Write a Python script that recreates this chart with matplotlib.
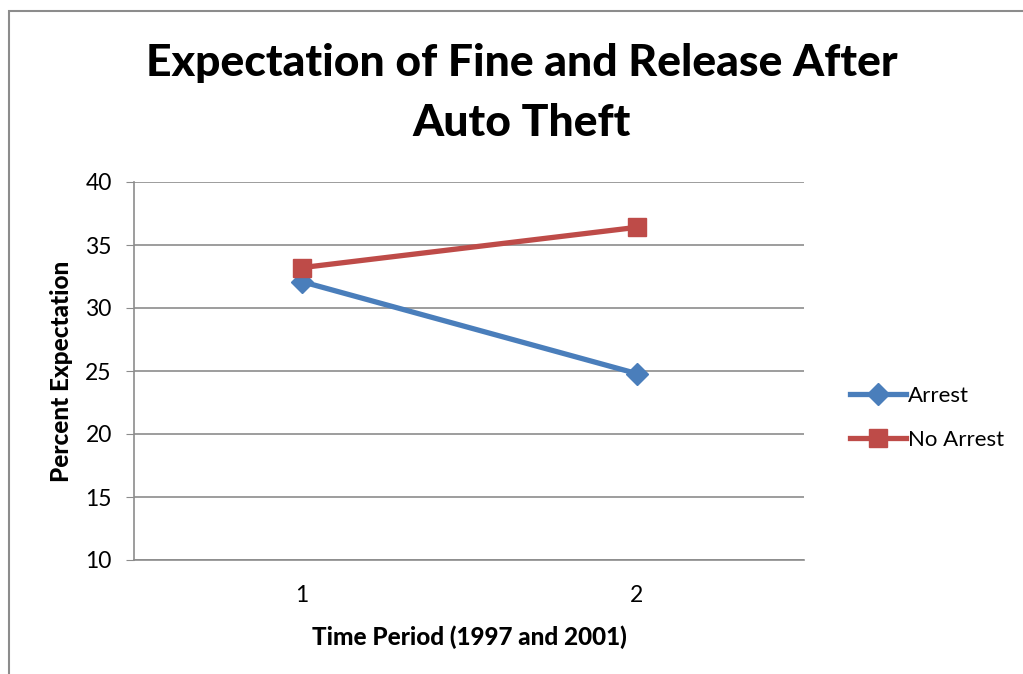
import matplotlib
matplotlib.use("Agg")
import matplotlib.pyplot as plt
from matplotlib.patches import Rectangle
from matplotlib.lines import Line2D

plt.rcParams['font.family'] = ['Lato', 'DejaVu Sans']

periods = [1, 2]
arrest = [32.1, 24.8]
no_arrest = [33.2, 36.4]
series_names = ["Arrest", "No Arrest"]
yticks = [10, 15, 20, 25, 30, 35, 40]

blue = "#4A7EBB"
red = "#BE4B48"
grid = "#8C8C8C"

fig = plt.figure(figsize=(10.23, 6.74), dpi=100)
fig.patches.append(Rectangle((9/1023, -0.1), 1.5, 1 - 11/674 + 0.1,
                             transform=fig.transFigure, fill=False,
                             edgecolor="#8C8C8C", linewidth=1.5))

ax = fig.add_axes([134/1023, 1 - 560/674, 670/1023, 378/674])
ax.plot(periods, arrest, color=blue, lw=3.8, marker='D', ms=11,
        label=series_names[0])
ax.plot(periods, no_arrest, color=red, lw=3.8, marker='s', ms=13,
        label=series_names[1])

ax.set_xlim(0.5, 2.5)
ax.set_ylim(10, 40)
ax.set_yticks(yticks)
ax.set_xticks(periods)
ax.yaxis.grid(True, color=grid, lw=1.2)
ax.set_axisbelow(True)
for s in ['top', 'right']:
    ax.spines[s].set_visible(False)
for s in ['left', 'bottom']:
    ax.spines[s].set_color(grid)
    ax.spines[s].set_linewidth(1.2)
ax.tick_params(axis='y', length=6, color=grid, labelsize=16.5, pad=10)
ax.tick_params(axis='x', length=0, labelsize=16.5, pad=18)

ax.set_ylabel("Percent Expectation", fontsize=17.5, fontweight='black', labelpad=9)
ax.set_xlabel("Time Period (1997 and 2001)", fontsize=17.5, fontweight='black', labelpad=14)

fig.text(522/1023, 1 - 93/674, "Expectation of Fine and Release After\nAuto Theft",
         ha='center', va='center', fontsize=32, fontweight='black', linespacing=1.6)

handles = [Line2D([], [], color=blue, lw=3.8, marker='D', ms=11),
           Line2D([], [], color=red, lw=3.8, marker='s', ms=13)]
fig.legend(handles, series_names, loc='center left',
           bbox_to_anchor=(830/1023, 1 - 418/674), frameon=False,
           fontsize=16, handlelength=2.5, handletextpad=0.1, labelspacing=1.1)

fig.savefig("out.png", dpi=100)
